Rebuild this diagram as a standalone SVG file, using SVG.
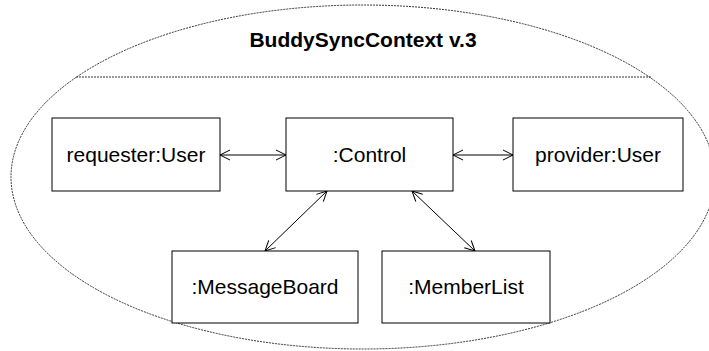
<svg xmlns="http://www.w3.org/2000/svg" width="709" height="351" viewBox="0 0 709 351">
<style>
.box{fill:#fff;stroke:#000;stroke-width:1}
.lbl{font-family:"Liberation Sans",Arial,sans-serif;font-size:21px;fill:#000;text-anchor:middle}
.ttl{font-family:"Liberation Sans",Arial,sans-serif;font-size:21px;font-weight:bold;fill:#000;text-anchor:middle}
.dash{fill:none;stroke:#000;stroke-width:0.8;stroke-dasharray:2,1}
.conn{fill:none;stroke:#000;stroke-width:1;marker-start:url(#arr);marker-end:url(#arr)}
</style>
<defs>
<marker id="arr" viewBox="0 0 12 12" refX="11" refY="6" markerWidth="12" markerHeight="12" markerUnits="userSpaceOnUse" orient="auto-start-reverse">
<path d="M1,1 L11,6 L1,11" fill="none" stroke="#000" stroke-width="1"/>
</marker>
</defs>
<g id="context">
<ellipse class="dash" cx="363" cy="177" rx="352" ry="172"/>
<line class="dash" x1="76" y1="77" x2="651" y2="77"/>
<text class="ttl" x="363" y="47">BuddySyncContext v.3</text>
</g>
<g id="connectors">
<line class="conn" x1="220" y1="155" x2="286" y2="155"/>
<line class="conn" x1="453" y1="155" x2="513" y2="155"/>
<line class="conn" x1="327" y1="191" x2="265" y2="251"/>
<line class="conn" x1="412" y1="191" x2="475" y2="251"/>
</g>
<g id="requester">
<rect class="box" x="52" y="118" width="168" height="73"/>
<text class="lbl" x="136" y="162">requester:User</text>
</g>
<g id="control">
<rect class="box" x="286" y="118" width="167" height="73"/>
<text class="lbl" x="369.5" y="162">:Control</text>
</g>
<g id="provider">
<rect class="box" x="513" y="118" width="170" height="73"/>
<text class="lbl" x="598" y="162">provider:User</text>
</g>
<g id="messageboard">
<rect class="box" x="172" y="251" width="186" height="72"/>
<text class="lbl" x="265" y="294">:MessageBoard</text>
</g>
<g id="memberlist">
<rect class="box" x="382" y="251" width="168" height="72"/>
<text class="lbl" x="466" y="294">:MemberList</text>
</g>
</svg>
